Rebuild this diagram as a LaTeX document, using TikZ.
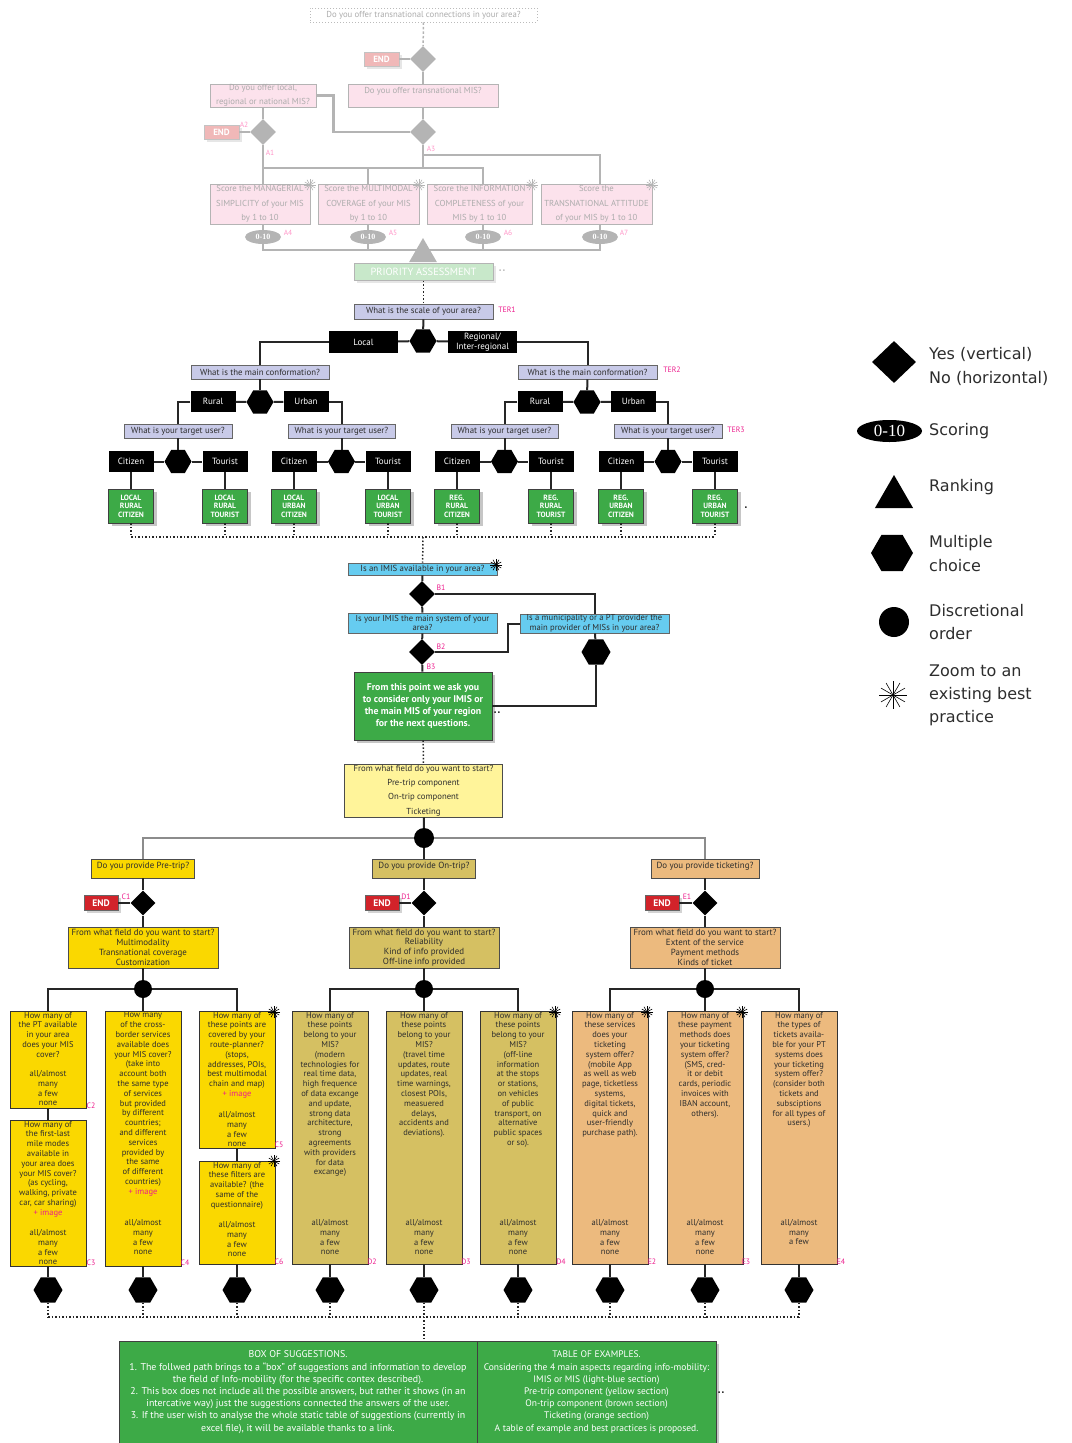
\documentclass[tikz,border=0pt]{standalone}
\usepackage{fontspec}
\setmainfont{PT Sans}
\newfontfamily\scorefont{Liberation Serif}
\newfontfamily\legendfont{DejaVu Sans}
\usetikzlibrary{shapes.geometric, shadows, positioning}

\definecolor{lavBox}{RGB}{200,202,232}
\definecolor{greenBox}{RGB}{61,170,71}
\definecolor{cyanBox}{RGB}{102,204,240}
\definecolor{paleYellow}{RGB}{255,244,154}
\definecolor{goldBox}{RGB}{250,216,0}
\definecolor{khakiBox}{RGB}{213,192,98}
\definecolor{orangeBox}{RGB}{236,186,126}
\definecolor{endRed}{RGB}{210,35,42}
\definecolor{fadePink}{RGB}{252,226,236}
\definecolor{fadeRed}{RGB}{240,184,184}
\definecolor{fadeGreen}{RGB}{200,232,202}
\definecolor{fadeGray}{RGB}{180,180,180}
\definecolor{fadeText}{RGB}{172,172,172}
\definecolor{labelPink}{RGB}{236,28,140}
\definecolor{fadeLabel}{RGB}{255,150,200}
\definecolor{inkGray}{RGB}{45,45,45}

\newcommand{\fsz}[2]{\fontsize{#1}{#2}\selectfont}
\newcommand{\colq}[4]{\parbox[c][#1][t]{74pt}{\centering\fsz{8.5}{9.8}#2\par\vfill#3\par\vspace*{#4}}}
\newcommand{\img}{\textcolor{labelPink}{+ image}}
\newcommand{\rates}{all/almost\\many\\a few\\none}

\tikzset{fadeBox/.style={shape=rectangle, draw=fadeGray, line width=1pt, fill=fadePink, text=fadeText, align=center, inner sep=0pt, font=\fsz{8.7}{14.5}}}
\tikzset{fadeEnd/.style={shape=rectangle, fill=fadeRed, draw=fadeGray!80, text=white, font=\bfseries\fsz{9}{9}, minimum width=35pt, minimum height=14pt, inner sep=0pt, drop shadow={opacity=0.2}}}
\tikzset{fadeDecision/.style={diamond, fill=fadeGray, minimum width=26pt, minimum height=26pt, inner sep=0pt}}
\tikzset{fadeScore/.style={ellipse, fill=fadeGray, text=white, font=\scorefont\bfseries\fsz{8}{9}, minimum width=36pt, minimum height=14pt, inner sep=0pt}}
\tikzset{fadeLink/.style={line width=2.5pt, fadeGray}}
\tikzset{fadeTag/.style={text=fadeLabel, font=\fsz{7.5}{8}, inner sep=0pt}}
\tikzset{question/.style={shape=rectangle, draw=gray!80!black, line width=0.8pt, fill=lavBox, align=center, inner sep=0pt, text=inkGray, font=\fsz{8.8}{9.5}}}
\tikzset{answer/.style={shape=rectangle, fill=black, text=white, align=center, inner sep=0pt, minimum width=45pt, minimum height=21pt, font=\fsz{9}{10}}}
\tikzset{choice/.style={regular polygon, regular polygon sides=6, fill=black, inner sep=0pt, minimum size=27pt}}
\tikzset{decision/.style={diamond, fill=black, inner sep=0pt, minimum width=26pt, minimum height=26pt}}
\tikzset{order/.style={circle, fill=black, inner sep=0pt, minimum size=20pt}}
\tikzset{result/.style={shape=rectangle, draw=black!75, line width=0.8pt, fill=greenBox, text=white, align=center, inner sep=0pt, drop shadow={opacity=0.45, shadow xshift=3pt, shadow yshift=-3pt}}}
\tikzset{leaf/.style={result, minimum width=45pt, minimum height=34pt, font=\bfseries\fsz{7.6}{8.4}}}
\tikzset{endNode/.style={shape=rectangle, fill=endRed, draw=black!60, text=white, font=\bfseries\fsz{9.5}{10}, minimum width=34pt, minimum height=15pt, inner sep=0pt, drop shadow={opacity=0.35}}}
\tikzset{infoBox/.style={shape=rectangle, draw=black!70, line width=0.8pt, align=center, inner sep=0pt, text=inkGray, font=\fsz{8.9}{9.8}}}
\tikzset{colBox/.style={shape=rectangle, draw=black!80, line width=0.8pt, inner sep=1pt, minimum width=76pt, text=inkGray}}
\tikzset{tag/.style={text=labelPink, font=\fsz{7.8}{8}, inner sep=0pt}}
\tikzset{link/.style={line width=2pt, black!85}}
\tikzset{greyLink/.style={line width=1.5pt, black!45}}
\tikzset{dotLink/.style={dotted, line width=1.5pt, black!85}}
\tikzset{stray/.style={inner sep=0pt, font=\fsz{6}{6}}}
\tikzset{legendText/.style={anchor=west, align=left, inner sep=0pt, text=inkGray, font=\legendfont\fsz{16}{23.3}}}
\tikzset{bestStar/.pic={\foreach \a in {0,30,...,150} \draw[line width=0.6pt] (\a:6pt) -- (\a+180:6pt);}}

\begin{document}
\begin{tikzpicture}[x=1pt, y=-1pt]

\useasboundingbox (0,0) rectangle (1071,1443);

% Faded opening part
\node[fadeBox, draw=fadeGray!90, dotted, fill=white, line width=0.8pt, minimum width=227pt, minimum height=14pt] (qA0) at (423.5,15) {Do you offer transnational connections in your area?};
\node[fadeDecision] (dA0) at (423,59) {};
\node[fadeEnd] (endA0) at (381.5,59) {END};
\node[fadeBox, minimum width=150pt, minimum height=23pt, text depth=11pt] (qA1) at (423,95.5) {Do you offer transnational MIS?};
\node[fadeBox, minimum width=106pt, minimum height=23pt] (qA2) at (263,95.5) {Do you offer local,\\regional or national MIS?};
\node[fadeDecision] (dA2) at (263,132) {};
\node[fadeEnd] (endA2) at (221.5,132) {END};
\node[fadeDecision] (dA3) at (423,132) {};
\node[fadeTag] (tagA2) at (244,125) {A2};
\node[fadeTag] (tagA1) at (270,153) {A1};
\node[fadeTag] (tagA3) at (431,149) {A3};

\node[fadeBox, minimum width=100pt, minimum height=40pt] (sA4) at (260,204) {Score the MANAGERIAL\\SIMPLICITY of your MIS\\by 1 to 10};
\node[fadeBox, minimum width=101pt, minimum height=40pt] (sA5) at (368.5,204) {Score the MULTIMODAL\\COVERAGE of your MIS\\by 1 to 10};
\node[fadeBox, minimum width=105pt, minimum height=40pt] (sA6) at (479.5,204) {Score the INFORMATION\\COMPLETENESS of your\\MIS by 1 to 10};
\node[fadeBox, minimum width=111pt, minimum height=40pt] (sA7) at (596.5,204) {Score the\\TRANSNATIONAL ATTITUDE\\of your MIS by 1 to 10};
\pic[color=fadeGray] at (310,185) {bestStar};
\pic[color=fadeGray] at (419,185) {bestStar};
\pic[color=fadeGray] at (532,185) {bestStar};
\pic[color=fadeGray] at (652,185) {bestStar};

\node[fadeScore] (eA4) at (263,237) {0-10};
\node[fadeScore] (eA5) at (368,237) {0-10};
\node[fadeScore] (eA6) at (483,237) {0-10};
\node[fadeScore] (eA7) at (600,237) {0-10};
\node[fadeTag] (tagA4) at (288,233) {A4};
\node[fadeTag] (tagA5) at (393,233) {A5};
\node[fadeTag] (tagA6) at (508,233) {A6};
\node[fadeTag] (tagA7) at (624,233) {A7};

\coordinate (busA) at (263,168);
\coordinate (forkA) at (423,155);
\coordinate (busB) at (263,250);

\draw[fadeLink, dotted, line width=1.5pt] (qA0) -- (dA0);
\draw[fadeLink] (endA0) -- (dA0);
\draw[fadeLink] (dA0) -- (qA1);
\draw[fadeLink] (qA1) -- (dA3);
\draw[fadeLink] (endA2) -- (dA2);
\draw[fadeLink] (qA2) -- (dA2);
\draw[fadeLink] (qA2.east) -- ++(17,0) |- (dA3);
\draw[fadeLink] (dA2) -- (busA) -- (eA6 |- busA) -- (eA6 |- sA6.north);
\draw[fadeLink] (dA3) -- (dA3 |- busA);
\draw[fadeLink] (forkA) -| (eA7 |- sA7.north);
\draw[fadeLink] (busA) -- (eA4 |- sA4.north);
\draw[fadeLink] (eA5 |- busA) -- (eA5 |- sA5.north);
\draw[fadeLink] (eA4 |- sA4.south) -- (eA4);
\draw[fadeLink] (eA5 |- sA5.south) -- (eA5);
\draw[fadeLink] (eA6 |- sA6.south) -- (eA6);
\draw[fadeLink] (eA7 |- sA7.south) -- (eA7);
\draw[fadeLink] (eA4) -- (busB) -| (eA7);
\draw[fadeLink] (eA5) -- (eA5 |- busB);
\draw[fadeLink] (eA6) -- (eA6 |- busB);

\node[regular polygon, regular polygon sides=3, fill=fadeGray, inner sep=0pt, minimum size=32pt] (rankA) at (423,254) {};
\node[shape=rectangle, draw=fadeGray, line width=1pt, fill=fadeGreen, text=white, inner sep=0pt, minimum width=139pt, minimum height=17pt, font=\fsz{10.4}{11}, drop shadow={opacity=0.2}] (prio) at (423.5,271.5) {PRIORITY ASSESSMENT};
\node[stray, text=fadeGray] (dot1) at (502,271) {\textbullet\,\textbullet};

% Territorial tree
\node[question, minimum width=139pt, minimum height=15pt, text depth=3pt] (qT1) at (423.5,311.5) {What is the scale of your area?};
\node[tag] (tagT1) at (507,310) {TER1};
\node[choice] (hT1) at (423,341) {};
\node[answer, minimum width=69pt, minimum height=22pt] (aLocal) at (363.5,342) {Local};
\node[answer, minimum width=69pt, minimum height=22pt] (aRegional) at (482.5,342) {Regional/\\Inter-regional};

\node[question, minimum width=138pt, minimum height=14pt] (qT2L) at (260,372) {What is the main conformation?};
\node[question, minimum width=139pt, minimum height=14pt] (qT2R) at (587.5,372) {What is the main conformation?};
\node[tag] (tagT2) at (672,370) {TER2};

\node[choice] (hL) at (260,402) {};
\node[answer] (ruralL) at (213,401.5) {Rural};
\node[answer] (urbanL) at (306,401.5) {Urban};
\node[choice] (hR) at (587,402) {};
\node[answer] (ruralR) at (540,401.5) {Rural};
\node[answer] (urbanR) at (633.5,401.5) {Urban};

\node[question, minimum width=108pt, minimum height=14pt] (qT3a) at (178,431) {What is your target user?};
\node[question, minimum width=107pt, minimum height=14pt] (qT3b) at (341.5,431) {What is your target user?};
\node[question, minimum width=107pt, minimum height=14pt] (qT3c) at (504.5,431) {What is your target user?};
\node[question, minimum width=108pt, minimum height=14pt] (qT3d) at (668,431) {What is your target user?};
\node[tag] (tagT3) at (736,430) {TER3};

\node[choice] (hUa) at (178,461.5) {};
\node[choice] (hUb) at (341.5,461.5) {};
\node[choice] (hUc) at (504.5,461.5) {};
\node[choice] (hUd) at (668,461.5) {};
\node[answer] (cA) at (131,461.5) {Citizen};
\node[answer] (tA) at (225,461.5) {Tourist};
\node[answer] (cB) at (294,461.5) {Citizen};
\node[answer] (tB) at (388,461.5) {Tourist};
\node[answer] (cC) at (457,461.5) {Citizen};
\node[answer] (tC) at (551,461.5) {Tourist};
\node[answer] (cD) at (621,461.5) {Citizen};
\node[answer] (tD) at (715,461.5) {Tourist};

\node[leaf] (lRC) at (131,506) {LOCAL\\RURAL\\CITIZEN};
\node[leaf] (lRT) at (225,506) {LOCAL\\RURAL\\TOURIST};
\node[leaf] (lUC) at (294,506) {LOCAL\\URBAN\\CITIZEN};
\node[leaf] (lUT) at (388,506) {LOCAL\\URBAN\\TOURIST};
\node[leaf] (rRC) at (457,506) {REG.\\RURAL\\CITIZEN};
\node[leaf] (rRT) at (551,506) {REG.\\RURAL\\TOURIST};
\node[leaf] (rUC) at (621,506) {REG.\\URBAN\\CITIZEN};
\node[leaf] (rUT) at (715,506) {REG.\\URBAN\\TOURIST};
\node[stray] (dot2) at (746,508) {\textbullet};

\draw[dotLink] (prio) -- (qT1);
\draw[link] (qT1) -- (hT1);
\draw[link] (aLocal) -- (hT1) -- (aRegional);
\draw[link] (aLocal.west) -| (qT2L.north);
\draw[link] (aRegional.east) -| (qT2R.north);
\draw[link] (qT2L) -- (hL);
\draw[link] (ruralL) -- (hL) -- (urbanL);
\draw[link] (qT2R) -- (hR);
\draw[link] (ruralR) -- (hR) -- (urbanR);
\draw[link] (ruralL.west) -| (qT3a.north);
\draw[link] (urbanL.east) -| (qT3b.north);
\draw[link] (ruralR.west) -| (qT3c.north);
\draw[link] (urbanR.east) -| (qT3d.north);
\draw[link] (qT3a) -- (hUa);
\draw[link] (qT3b) -- (hUb);
\draw[link] (qT3c) -- (hUc);
\draw[link] (qT3d) -- (hUd);
\draw[link] (cA) -- (hUa) -- (tA);
\draw[link] (cB) -- (hUb) -- (tB);
\draw[link] (cC) -- (hUc) -- (tC);
\draw[link] (cD) -- (hUd) -- (tD);
\draw[link] (cA) -- (lRC);
\draw[link] (tA) -- (lRT);
\draw[link] (cB) -- (lUC);
\draw[link] (tB) -- (lUT);
\draw[link] (cC) -- (rRC);
\draw[link] (tC) -- (rRT);
\draw[link] (cD) -- (rUC);
\draw[link] (tD) -- (rUT);

\coordinate (collT) at (423,537);
\foreach \n in {lRC,lRT,lUC,lUT,rRC,rRT,rUC,rUT}
  \draw[dotLink] (\n) -- (\n |- collT);
\draw[dotLink] (lRC |- collT) -- (rUT |- collT);

% IMIS part
\node[question, fill=cyanBox, minimum width=149pt, minimum height=12pt, font=\fsz{8.8}{9.5}] (qB1) at (422.5,569) {Is an IMIS available in your area?};
\pic[color=black] at (496,565) {bestStar};
\node[decision] (dB1) at (422,594) {};
\node[tag] (tagB1) at (441,588) {B1};
\node[question, fill=cyanBox, minimum width=149pt, minimum height=20pt, font=\fsz{8.6}{9.5}] (qB2) at (422.5,623) {Is your IMIS the main system of your\\area?};
\node[question, fill=cyanBox, minimum width=149pt, minimum height=19pt, font=\fsz{8.6}{9.5}] (qB4) at (594.5,623.5) {Is a municipality or a PT provider the\\main provider of MISs in your area?};
\node[decision] (dB2) at (422,652) {};
\node[tag] (tagB2) at (441,647) {B2};
\node[tag] (tagB3) at (431,667) {B3};
\node[choice, minimum size=29pt] (hB4) at (596,652) {};
\node[result, minimum width=138pt, minimum height=68pt, font=\bfseries\fsz{9.8}{12}] (gB) at (423,706) {From this point we ask you\\to consider only your IMIS or\\the main MIS of your region\\for the next questions.};
\node[stray] (dot3) at (497,713) {\textbullet\,\textbullet};
\node[infoBox, fill=paleYellow, minimum width=158pt, minimum height=53pt, font=\fsz{8.7}{14.3}] (qStart) at (423.5,790.5) {From what field do you want to start?\\Pre-trip component\\On-trip component\\Ticketing};
\node[order] (cS) at (424,838) {};

\coordinate (jB2) at (508,652);
\draw[dotLink] (collT) -- (qB1);
\draw[link] (qB1) -- (dB1);
\draw[link] (dB1.east) -| (qB4.north);
\draw[link] (dB1) -- (qB2);
\draw[link] (qB2) -- (dB2);
\draw[link] (dB2.east) -- (jB2) |- (qB4.west);
\draw[link] (qB4) -- (hB4);
\draw[link] (hB4) |- (gB.east);
\draw[link] (dB2) -- (gB);
\draw[dotLink] (gB) -- (qStart);
\draw[link] (qStart) -- (cS);

% Pre-trip, on-trip and ticketing
\node[infoBox, fill=goldBox, minimum width=103pt, minimum height=19pt, text depth=6pt] (qC) at (143,868.5) {Do you provide Pre-trip?};
\node[infoBox, fill=khakiBox, minimum width=103pt, minimum height=19pt, text depth=6pt] (qD) at (424,868.5) {Do you provide On-trip?};
\node[infoBox, fill=orangeBox, minimum width=108pt, minimum height=19pt, text depth=6pt] (qE) at (705,868.5) {Do you provide ticketing?};
\node[decision, minimum width=25pt, minimum height=25pt] (dC) at (143,903) {};
\node[decision, minimum width=25pt, minimum height=25pt] (dD) at (424,903) {};
\node[decision, minimum width=25pt, minimum height=25pt] (dE) at (705,903) {};
\node[endNode] (endC) at (101,903) {END};
\node[endNode] (endD) at (382,903) {END};
\node[endNode] (endE) at (662,903) {END};
\node[tag] (tagC1) at (126,897) {C1};
\node[tag] (tagD1) at (406,897) {D1};
\node[tag] (tagE1) at (687,897) {E1};
\node[infoBox, fill=goldBox, minimum width=150pt, minimum height=41pt, font=\fsz{8.9}{9.8}] (fC) at (143,947.5) {From what field do you want to start?\\Multimodality\\Transnational coverage\\Customization};
\node[infoBox, fill=khakiBox, minimum width=150pt, minimum height=41pt, font=\fsz{8.9}{9.8}] (fD) at (424,947.5) {From what field do you want to start?\\Reliability\\Kind of info provided\\Off-line info provided};
\node[infoBox, fill=orangeBox, minimum width=150pt, minimum height=41pt, font=\fsz{8.9}{9.8}] (fE) at (705,947.5) {From what field do you want to start?\\Extent of the service\\Payment methods\\Kinds of ticket};
\node[order, minimum size=18pt] (cC) at (143,989) {};
\node[order, minimum size=18pt] (cD) at (424,989) {};
\node[order, minimum size=18pt] (cE) at (705,989) {};

\draw[greyLink] (cS) -| (qC.north);
\draw[greyLink] (cS) -| (qE.north);
\draw[link] (cS) -- (qD);
\foreach \g in {C,D,E} {
  \draw[link] (q\g) -- (d\g);
  \draw[link] (end\g) -- (d\g);
  \draw[link] (d\g) -- (f\g);
  \draw[link] (f\g) -- (c\g);
}

% Question columns
\node[colBox, fill=goldBox] (C2) at (48,1059.5) {\colq{95pt}{How many of\\the PT available\\in your area\\does your MIS\\cover?}{\rates}{1pt}};
\node[colBox, fill=goldBox] (C3) at (48,1193) {\colq{144pt}{How many of\\the first-last\\mile modes\\available in\\your area does\\your MIS cover?\\(as cycling,\\walking, private\\car, car sharing)\\\img}{\rates}{0pt}};
\node[colBox, fill=goldBox] (C4) at (143,1138.5) {\colq{253pt}{How many\\of the cross-\\border services\\available does\\your MIS cover?\\(take into\\account both\\the same type\\of services\\but provided\\by different\\countries;\\and different\\services\\provided by\\the same\\of different\\countries)\\\img}{\rates}{10pt}};
\node[colBox, fill=goldBox] (C5) at (237,1079.5) {\colq{135pt}{How many of\\these points are\\covered by your\\route-planner?\\(stops,\\addresses, POIs,\\best multimodal\\chain and map)\\\img}{\rates}{0pt}};
\node[colBox, fill=goldBox] (C6) at (237,1212.5) {\colq{101pt}{How many of\\these filters are\\available? (the\\same of the\\questionnaire)}{\rates}{6pt}};
\node[colBox, fill=khakiBox] (D2) at (330,1137.5) {\colq{251pt}{How many of\\these points\\belong to your\\MIS?\\(modern\\technologies for\\real time data,\\high frequence\\of data excange\\and update,\\strong data\\architecture,\\strong\\agreements\\with providers\\for data\\excange)}{\rates}{8pt}};
\node[colBox, fill=khakiBox] (D3) at (424,1137.5) {\colq{251pt}{How many of\\these points\\belong to your\\MIS?\\(travel time\\updates, route\\updates, real\\time warnings,\\closest POIs,\\measuered\\delays,\\accidents and\\deviations).}{\rates}{8pt}};
\node[colBox, fill=khakiBox] (D4) at (518,1137.5) {\colq{251pt}{How many of\\these points\\belong to your\\MIS?\\(off-line\\information\\at the stops\\or stations,\\on vehicles\\of public\\transport, on\\alternative\\public spaces\\or so).}{\rates}{8pt}};
\node[colBox, fill=orangeBox] (E2) at (610,1137.5) {\colq{251pt}{How many of\\these services\\does your\\ticketing\\system offer?\\(mobile App\\as well as web\\page, ticketless\\systems,\\digital tickets,\\quick and\\user-friendly\\purchase path).}{\rates}{8pt}};
\node[colBox, fill=orangeBox] (E3) at (705,1137.5) {\colq{251pt}{How many of\\these payment\\methods does\\your ticketing\\system offer?\\(SMS, cred-\\it or debit\\cards, periodic\\invoices with\\IBAN account,\\others).}{\rates}{8pt}};
\node[colBox, fill=orangeBox] (E4) at (799,1137.5) {\colq{251pt}{How many of\\the types of\\tickets availa-\\ble for your PT\\systems does\\your ticketing\\system offer?\\(consider both\\tickets and\\subsciptions\\for all types of\\users.)}{all/almost\\many\\a few}{18pt}};
\pic[color=black] at (274,1012) {bestStar};
\pic[color=black] at (274,1161) {bestStar};
\pic[color=black] at (555,1012) {bestStar};
\pic[color=black] at (647,1012) {bestStar};
\pic[color=black] at (742,1012) {bestStar};
\node[tag] (tagC2) at (91,1106) {C2};
\node[tag] (tagC3) at (91,1263) {C3};
\node[tag] (tagC4) at (185,1263) {C4};
\node[tag] (tagC5) at (279,1145) {C5};
\node[tag] (tagC6) at (279,1262) {C6};
\node[tag] (tagD2) at (372,1262) {D2};
\node[tag] (tagD3) at (466,1262) {D3};
\node[tag] (tagD4) at (561,1262) {D4};
\node[tag] (tagE2) at (652,1262) {E2};
\node[tag] (tagE3) at (746,1262) {E3};
\node[tag] (tagE4) at (841,1262) {E4};

\draw[link] (C2.north) |- (cC);
\draw[link] (C5.north) |- (cC);
\draw[link] (cC) -- (C4);
\draw[link] (D2.north) |- (cD);
\draw[link] (D4.north) |- (cD);
\draw[link] (cD) -- (D3);
\draw[link] (E2.north) |- (cE);
\draw[link] (E4.north) |- (cE);
\draw[link] (cE) -- (E3);
\draw[link] (C2) -- (C3);
\draw[link] (C5) -- (C6);

\coordinate (collB) at (424,1317);
\foreach \n/\c in {C3/48, C4/143, C6/237, D2/330, D3/424, D4/518, E2/610, E3/705, E4/799} {
  \node[choice, minimum size=29pt] (x\n) at (\c,1290) {};
  \draw[link] (\n) -- (x\n);
  \draw[dotLink] (x\n) -- (x\n |- collB);
}
\draw[dotLink] (xC3 |- collB) -- (xE4 |- collB);

% Closing boxes
\node[result, minimum width=358pt, minimum height=102pt, font=\fsz{9.9}{12.2}] (gS) at (298,1392) {BOX OF SUGGESTIONS.\\1. The follwed path brings to a “box” of suggestions and information to develop\\the field of Info-mobility (for the specific contex described).\\2. This box does not include all the possible answers, but rather it shows (in an\\intercative way) just the suggestions connected the answers of the user.\\3. If the user wish to analyse the whole static table of suggestions (currently in\\excel file), it will be available thanks to a link.};
\node[result, minimum width=239pt, minimum height=102pt, font=\fsz{9.5}{12.2}] (gT) at (596.5,1392) {TABLE OF EXAMPLES.\\Considering the 4 main aspects regarding info-mobility:\\IMIS or MIS (light-blue section)\\Pre-trip component (yellow section)\\On-trip component (brown section)\\Ticketing (orange section)\\A table of example and best practices is proposed.};
\node[stray] (dot4) at (721,1393) {\textbullet\,\textbullet};
\draw[dotLink] (xD3) -- (xD3 |- gS.north);

% Legend
\node[decision, minimum width=44pt, minimum height=42pt] (legDec) at (894,362) {};
\node[legendText] (legDecT) at (929,366.5) {Yes (vertical)\\No (horizontal)};
\node[ellipse, fill=black, text=white, inner sep=0pt, minimum width=65pt, minimum height=22pt, font=\scorefont\fsz{17}{17}] (legScore) at (889.5,431) {0-10};
\node[legendText] (legScoreT) at (929,431) {Scoring};
\node[regular polygon, regular polygon sides=3, fill=black, inner sep=0pt, minimum size=44pt] (legRank) at (894,497) {};
\node[legendText] (legRankT) at (929,487) {Ranking};
\node[choice, minimum size=42pt] (legMulti) at (892,553) {};
\node[legendText] (legMultiT) at (929,553.5) {Multiple\\choice};
\node[order, minimum size=30pt] (legOrder) at (894,622) {};
\node[legendText] (legOrderT) at (929,622) {Discretional\\order};
\pic[color=black, scale=2.3] at (893,695) {bestStar};
\node[legendText] (legZoomT) at (929,695.5) {Zoom to an\\existing best\\practice};

\end{tikzpicture}
\end{document}
